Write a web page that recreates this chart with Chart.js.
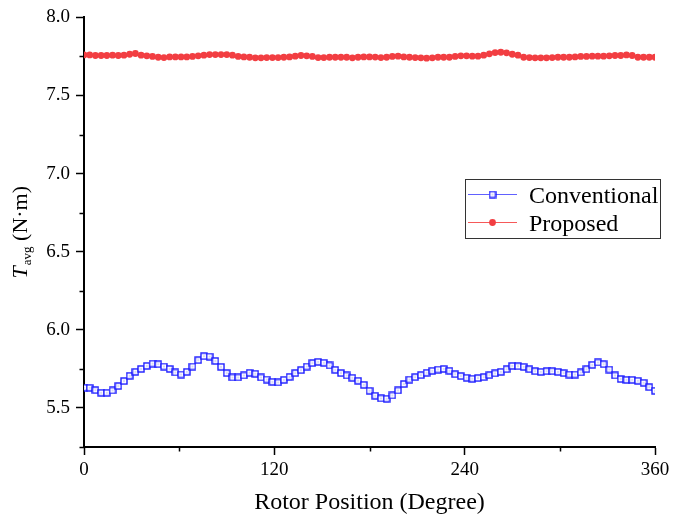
<!DOCTYPE html>
<html>
<head>
<meta charset="utf-8">
<script src="https://cdn.jsdelivr.net/npm/chart.js@4.4.1/dist/chart.umd.min.js"></script>
<style>
  html, body { margin: 0; padding: 0; background: #fff; }
  #wrap { width: 683px; height: 518px; position: relative; }
</style>
</head>
<body>
<div id="wrap"><canvas id="c" width="683" height="518"></canvas></div>
<script>
// Rotor position samples (degrees)
const rotorAngle = [
  0, 3.6, 7.2, 10.8, 14.4, 18, 21.6, 25.2, 28.8, 32.4,
  36, 39.6, 43.2, 46.8, 50.4, 54, 57.6, 61.2, 64.8, 68.4,
  72, 75.6, 79.2, 82.8, 86.4, 90, 93.6, 97.2, 100.8, 104.4,
  108, 111.6, 115.2, 118.8, 122.4, 126, 129.6, 133.2, 136.8, 140.4,
  144, 147.6, 151.2, 154.8, 158.4, 162, 165.6, 169.2, 172.8, 176.4,
  180, 183.6, 187.2, 190.8, 194.4, 198, 201.6, 205.2, 208.8, 212.4,
  216, 219.6, 223.2, 226.8, 230.4, 234, 237.6, 241.2, 244.8, 248.4,
  252, 255.6, 259.2, 262.8, 266.4, 270, 273.6, 277.2, 280.8, 284.4,
  288, 291.6, 295.2, 298.8, 302.4, 306, 309.6, 313.2, 316.8, 320.4,
  324, 327.6, 331.2, 334.8, 338.4, 342, 345.6, 349.2, 352.8, 356.4,
  360
];

// Average torque of the conventional machine (N·m)
const torqueConventional = [
  5.630, 5.629, 5.614, 5.597, 5.597, 5.612, 5.640, 5.672, 5.706, 5.731,
  5.750, 5.769, 5.784, 5.780, 5.765, 5.750, 5.727, 5.714, 5.731, 5.765,
  5.806, 5.831, 5.829, 5.801, 5.763, 5.723, 5.695, 5.695, 5.708, 5.725,
  5.719, 5.695, 5.682, 5.667, 5.663, 5.680, 5.699, 5.723, 5.742, 5.765,
  5.787, 5.795, 5.789, 5.772, 5.744, 5.723, 5.708, 5.693, 5.674, 5.648,
  5.610, 5.578, 5.561, 5.559, 5.580, 5.612, 5.653, 5.682, 5.697, 5.710,
  5.725, 5.738, 5.746, 5.750, 5.738, 5.716, 5.704, 5.693, 5.687, 5.691,
  5.697, 5.710, 5.721, 5.731, 5.748, 5.769, 5.767, 5.763, 5.748, 5.735,
  5.731, 5.735, 5.735, 5.731, 5.723, 5.714, 5.714, 5.727, 5.748, 5.776,
  5.791, 5.780, 5.746, 5.708, 5.685, 5.680, 5.680, 5.674, 5.661, 5.633,
  5.610
];

// Average torque of the proposed machine (N·m)
const torqueProposed = [
  7.760, 7.760, 7.756, 7.756, 7.756, 7.758, 7.756, 7.758, 7.764, 7.769,
  7.758, 7.754, 7.750, 7.745, 7.743, 7.747, 7.747, 7.747, 7.747, 7.750,
  7.754, 7.758, 7.762, 7.762, 7.762, 7.762, 7.758, 7.750, 7.747, 7.745,
  7.741, 7.741, 7.743, 7.743, 7.743, 7.745, 7.747, 7.752, 7.756, 7.754,
  7.750, 7.743, 7.743, 7.745, 7.745, 7.745, 7.745, 7.741, 7.745, 7.747,
  7.747, 7.746, 7.743, 7.745, 7.750, 7.752, 7.747, 7.745, 7.743, 7.741,
  7.739, 7.741, 7.745, 7.745, 7.745, 7.750, 7.754, 7.754, 7.752, 7.752,
  7.758, 7.767, 7.775, 7.777, 7.773, 7.764, 7.758, 7.745, 7.743, 7.741,
  7.741, 7.741, 7.743, 7.745, 7.745, 7.745, 7.747, 7.750, 7.750, 7.752,
  7.752, 7.752, 7.754, 7.756, 7.756, 7.760, 7.756, 7.745, 7.745, 7.745,
  7.745
];

const seriesNames = ['Conventional', 'Proposed'];
const xMajorTicks = [0, 120, 240, 360];
const xMinorTicks = [60, 180, 300];
const yMajorTicks = [5.5, 6.0, 6.5, 7.0, 7.5, 8.0];
const yMinorTicks = [5.25, 5.75, 6.25, 6.75, 7.25, 7.75];

const SERIF = "'Liberation Serif', 'Times New Roman', serif";
const BLUE = '#1a1aff';
const BLUE_LINE = 'rgba(50,50,255,0.9)';
const RED = 'rgb(242,62,66)';

// Open square with a centre dot
function squareMarker() {
  const c = document.createElement('canvas');
  c.width = 8; c.height = 8;
  const g = c.getContext('2d');
  g.fillStyle = '#fff';
  g.fillRect(1, 1, 6, 6);
  g.strokeStyle = BLUE;
  g.lineWidth = 1.4;
  g.strokeRect(1, 1, 6, 6);
  g.fillStyle = 'rgba(70,70,200,0.8)';
  g.fillRect(3.5, 3.5, 1, 1);
  return c;
}
const sqMarker = squareMarker();

const toPoints = (ys) => rotorAngle.map((x, i) => ({ x, y: ys[i] }));

// Minor ticks, y-axis title with subscript, and the framed legend
const decorations = {
  id: 'decorations',
  afterDraw(chart) {
    const { ctx, chartArea, scales } = chart;
    const xs = scales.x, ys = scales.y;
    ctx.save();
    ctx.strokeStyle = '#000';
    ctx.lineWidth = 1.5;
    ctx.beginPath();
    xMinorTicks.forEach(v => {
      const px = Math.round(xs.getPixelForValue(v)) + 0.5;
      ctx.moveTo(px, chartArea.bottom);
      ctx.lineTo(px, chartArea.bottom + 4.5);
    });
    yMinorTicks.forEach(v => {
      const py = Math.round(ys.getPixelForValue(v)) + 0.5;
      ctx.moveTo(chartArea.left, py);
      ctx.lineTo(chartArea.left - 4.5, py);
    });
    ctx.stroke();

    // y-axis title: T_avg (N·m)
    const fMain = 'italic 22px ' + SERIF;
    const fSub = '13px ' + SERIF;
    const fRest = '22px ' + SERIF;
    ctx.font = fMain; const wT = ctx.measureText('T').width;
    ctx.font = fSub; const wS = ctx.measureText('avg').width;
    ctx.font = fRest; const wR = ctx.measureText(' (N\u00B7m)').width;
    const total = wT + 1 + wS + wR;
    const cy = (chartArea.top + chartArea.bottom) / 2;
    ctx.translate(27, cy);
    ctx.rotate(-Math.PI / 2);
    ctx.fillStyle = '#000';
    ctx.textBaseline = 'alphabetic';
    let x0 = -total / 2;
    ctx.font = fMain; ctx.fillText('T', x0, 0); x0 += wT + 1;
    ctx.font = fSub; ctx.fillText('avg', x0, 4); x0 += wS;
    ctx.font = fRest; ctx.fillText(' (N\u00B7m)', x0, 0);
    ctx.restore();

    // legend
    ctx.save();
    ctx.strokeStyle = '#333';
    ctx.lineWidth = 1;
    ctx.strokeRect(465.5, 179.5, 195, 59);
    const rows = [
      { y: 194.5, base: 203, label: seriesNames[0], kind: 'sq' },
      { y: 222.5, base: 231, label: seriesNames[1], kind: 'dot' }
    ];
    rows.forEach(r => {
      ctx.strokeStyle = r.kind === 'sq' ? 'rgba(80,80,255,0.9)' : 'rgba(245,80,80,0.95)';
      ctx.lineWidth = 1;
      ctx.beginPath();
      ctx.moveTo(468, r.y); ctx.lineTo(517, r.y);
      ctx.stroke();
      if (r.kind === 'sq') {
        ctx.drawImage(sqMarker, 492.5 - 4, r.y - 4);
      } else {
        ctx.fillStyle = RED;
        ctx.beginPath(); ctx.arc(492.5, r.y, 3.4, 0, Math.PI * 2); ctx.fill();
      }
      ctx.fillStyle = '#000';
      ctx.font = '24px ' + SERIF;
      ctx.textBaseline = 'alphabetic';
      ctx.fillText(r.label, 529, r.base);
    });
    ctx.restore();
  }
};

new Chart(document.getElementById('c'), {
  type: 'line',
  data: {
    datasets: [
      {
        label: seriesNames[0],
        data: toPoints(torqueConventional),
        borderColor: BLUE_LINE,
        borderWidth: 1,
        pointStyle: sqMarker,
        pointRadius: 4,
        tension: 0
      },
      {
        label: seriesNames[1],
        data: toPoints(torqueProposed),
        borderColor: 'rgba(245,80,80,0.95)',
        borderWidth: 1,
        pointStyle: 'circle',
        pointRadius: 3.4,
        pointBackgroundColor: RED,
        pointBorderColor: RED,
        pointBorderWidth: 0,
        tension: 0
      }
    ]
  },
  options: {
    responsive: false,
    animation: false,
    devicePixelRatio: 1,
    layout: { padding: { top: 16, right: 28, left: 0, bottom: 0 } },
    plugins: { legend: { display: false }, tooltip: { enabled: false } },
    scales: {
      x: {
        type: 'linear',
        min: 0, max: 360,
        afterBuildTicks: (s) => { s.ticks = xMajorTicks.map(v => ({ value: v })); },
        afterFit: (s) => { s.height = 71; },
        ticks: {
          font: { family: SERIF, size: 19 },
          color: '#000',
          padding: 4,
          maxRotation: 0,
          callback: (v) => String(v)
        },
        grid: {
          drawOnChartArea: false,
          drawTicks: true,
          tickLength: 8,
          tickWidth: 1.5,
          tickColor: '#000'
        },
        border: { display: true, color: '#000', width: 2 },
        title: {
          display: true,
          text: 'Rotor Position (Degree)',
          font: { family: SERIF, size: 24 },
          color: '#000',
          padding: { top: 0, bottom: 1 }
        }
      },
      y: {
        type: 'linear',
        min: 5.25, max: 8.0,
        afterBuildTicks: (s) => { s.ticks = yMajorTicks.map(v => ({ value: v })); },
        afterFit: (s) => { s.width = 84; },
        ticks: {
          font: { family: SERIF, size: 19 },
          color: '#000',
          padding: 6,
          callback: (v) => Number(v).toFixed(1)
        },
        grid: {
          drawOnChartArea: false,
          drawTicks: true,
          tickLength: 8,
          tickWidth: 1.5,
          tickColor: '#000'
        },
        border: { display: true, color: '#000', width: 2 }
      }
    }
  },
  plugins: [decorations]
});
</script>
</body>
</html>
